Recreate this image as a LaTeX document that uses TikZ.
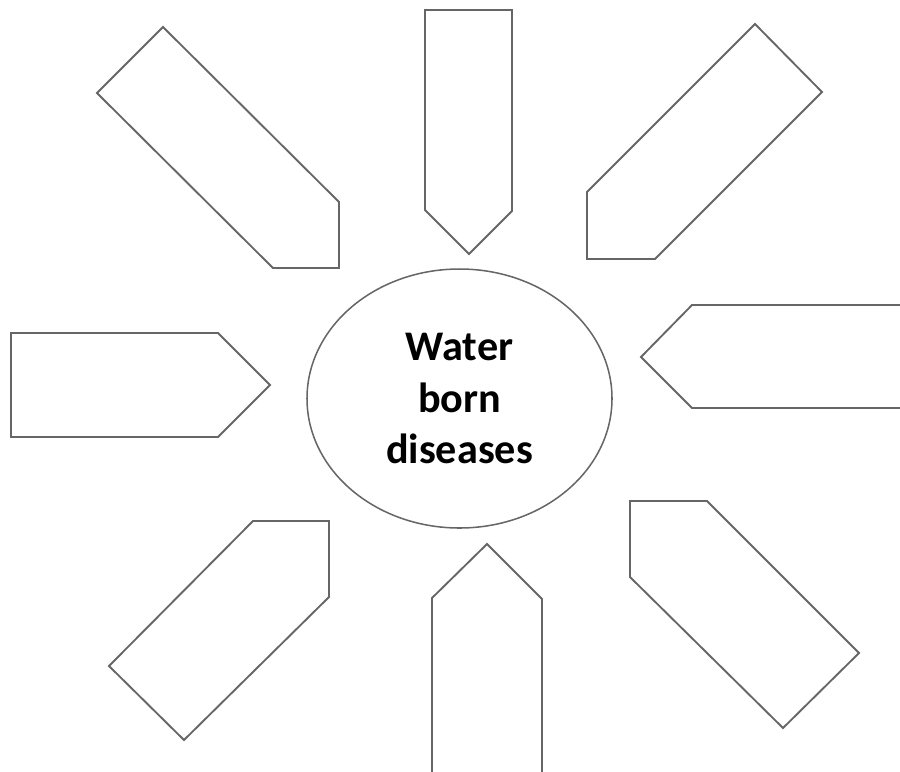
\documentclass[tikz,border=0pt]{standalone}
\usepackage{fontspec}
\setmainfont{Carlito}
\usepackage{xcolor}
\usetikzlibrary{shapes.geometric}
\definecolor{pLine}{HTML}{666666}
\newlength{\pxu}
\setlength{\pxu}{0.03cm}
\tikzset{
  petal/.style={draw=pLine, line width=1.6pt, line join=miter},
  hub/.style={ellipse, draw=pLine, line width=1.3pt, minimum width=305\pxu,
    minimum height=259\pxu, inner sep=0pt, align=center,
    font=\fontsize{36pt}{44pt}\selectfont\bfseries},
}

\begin{document}
\begin{tikzpicture}[x=0.03cm, y=-0.03cm]
      \useasboundingbox (0,0) rectangle (900,771);
      \clip (0,0) rectangle (900,771);
      % centre
      \node[hub] (wbd) at (459.5,398.5) {Water\\born\\diseases};
      % petals, clockwise from the top
      \draw[petal] (425,10) -- (512,10) -- (512,211) -- (469,254) -- (425,210) -- cycle;
      \draw[petal] (755,24) -- (822,92) -- (655,259) -- (587,259) -- (587,192) -- cycle;
      \draw[petal] (910,305) -- (692,305) -- (641,357) -- (692,408) -- (910,408);
      \draw[petal] (630,501) -- (707,501) -- (859,653) -- (783,728) -- (630,577) -- cycle;
      \draw[petal] (432,790) -- (432,598) -- (487,544) -- (542,599) -- (542,790);
      \draw[petal] (253,521) -- (329,521) -- (329,597) -- (184,740) -- (109,666) -- cycle;
      \draw[petal] (11,333) -- (218,333) -- (270,385) -- (218,437) -- (11,437) -- cycle;
      \draw[petal] (163,27) -- (339,202) -- (339,268) -- (273,268) -- (97,93) -- cycle;
    \end{tikzpicture}
\end{document}
